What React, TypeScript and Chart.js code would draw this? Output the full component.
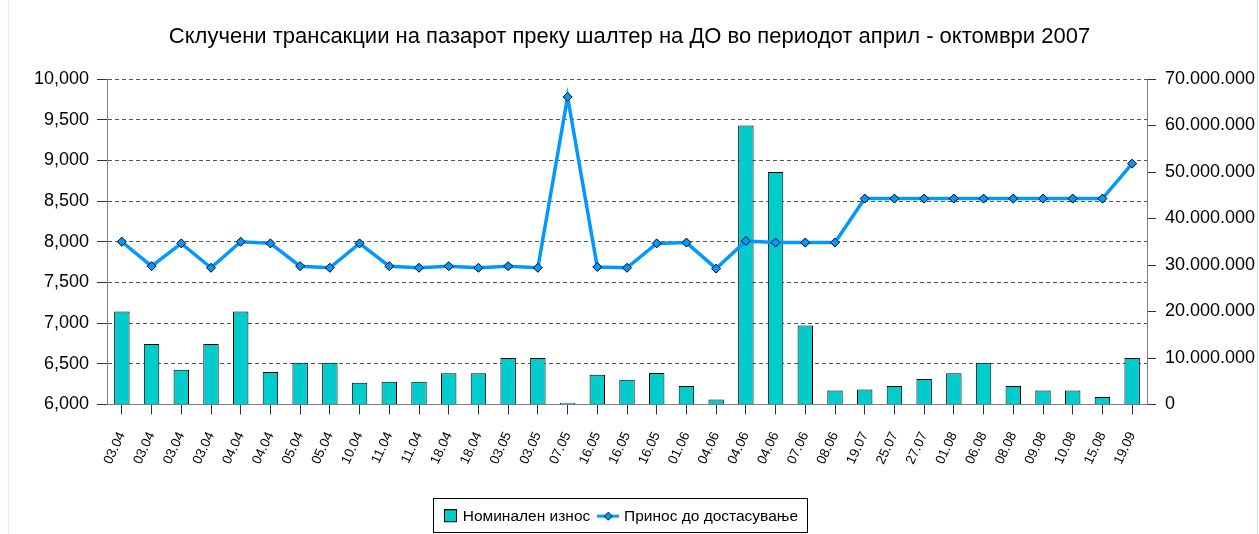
import { useEffect, useRef } from "react";
import { Chart, registerables } from "chart.js";

Chart.register(...registerables);

// ---------- data ----------
const categories = [
  "03.04", "03.04", "03.04", "03.04", "04.04", "04.04", "05.04", "05.04", "10.04",
  "11.04", "11.04", "18.04", "18.04", "03.05", "03.05", "07.05", "16.05", "16.05",
  "16.05", "01.06", "04.06", "04.06", "04.06", "07.06", "08.06", "19.07", "25.07",
  "27.07", "01.08", "06.08", "08.08", "09.08", "10.08", "15.08", "19.09",
];

// Номинален износ (denars) – right axis
const nominalAmount = [
  20000000, 13000000, 7500000, 13000000, 20000000, 7000000, 9000000, 9000000, 4700000,
  4900000, 4900000, 6700000, 6700000, 10000000, 10000000, 400000, 6400000, 5300000,
  6800000, 4000000, 1100000, 60000000, 50000000, 17000000, 3000000, 3200000, 4000000,
  5500000, 6700000, 9000000, 4000000, 3000000, 3000000, 1600000, 10000000,
];

// Принос до достасување (%) – left axis
const yieldToMaturity = [
  8.0, 7.7, 7.98, 7.68, 8.0, 7.98, 7.7, 7.68, 7.98,
  7.7, 7.68, 7.7, 7.68, 7.7, 7.68, 9.78, 7.69, 7.68,
  7.98, 7.99, 7.67, 8.01, 7.99, 7.99, 7.99, 8.53, 8.53,
  8.53, 8.53, 8.53, 8.53, 8.53, 8.53, 8.53, 8.96,
];

const seriesNames = ["Номинален износ", "Принос до достасување"];
const chartTitle =
  "Склучени трансакции на пазарот преку шалтер на ДО во периодот април - октомври 2007";

// ---------- styling ----------
const FONT = "'Liberation Sans', Arial, sans-serif";
const BAR_COLOR = "#00CCCC";
const LINE_COLOR = "#0099FF";
const GRID_COLOR = "#555555";
const AXIS_COLOR = "#808080";

const formatLeft = (v: number) => Number(v).toFixed(3).replace(".", ",");
const formatRight = (v: number) =>
  Math.round(v).toString().replace(/\B(?=(\d{3})+(?!\d))/g, ".");

function makeBarMarker() {
  const c = document.createElement("canvas");
  c.width = 22;
  c.height = 14;
  const ctx = c.getContext("2d")!;
  ctx.fillStyle = BAR_COLOR;
  ctx.fillRect(8.5, 0.5, 12, 12);
  ctx.strokeStyle = "#000";
  ctx.lineWidth = 1;
  ctx.strokeRect(8.5, 0.5, 12, 12);
  return c;
}

function makeLineMarker() {
  const c = document.createElement("canvas");
  c.width = 22;
  c.height = 14;
  const ctx = c.getContext("2d")!;
  ctx.strokeStyle = LINE_COLOR;
  ctx.lineWidth = 3;
  ctx.beginPath();
  ctx.moveTo(0, 7);
  ctx.lineTo(22, 7);
  ctx.stroke();
  ctx.beginPath();
  ctx.moveTo(11, 3);
  ctx.lineTo(15, 7);
  ctx.lineTo(11, 11);
  ctx.lineTo(7, 7);
  ctx.closePath();
  ctx.fillStyle = LINE_COLOR;
  ctx.fill();
  ctx.strokeStyle = "#000";
  ctx.lineWidth = 1;
  ctx.stroke();
  return c;
}

const legendShift = {
  id: "legendShift",
  afterLayout(chart: any) {
    const lg = chart.legend;
    if (!lg) return;
    lg.left -= 11;
    lg.right -= 11;
  },
};

const legendBorder = {
  id: "legendBorder",
  afterDraw(chart: any) {
    const lg = chart.legend;
    if (!lg || !lg.legendHitBoxes || !lg.legendHitBoxes.length) return;
    const boxes = lg.legendHitBoxes;
    const left = Math.min(...boxes.map((b: any) => b.left));
    const right = Math.max(...boxes.map((b: any) => b.left + b.width));
    const top = Math.min(...boxes.map((b: any) => b.top));
    const bottom = Math.max(...boxes.map((b: any) => b.top + b.height));
    const ctx = chart.ctx;
    ctx.save();
    ctx.strokeStyle = "#000";
    ctx.lineWidth = 1;
    const x0 = Math.round(left - 6) + 0.5;
    const x1 = Math.round(right + 9) + 0.5;
    const y0 = Math.round(top - 11) + 0.5;
    const y1 = Math.min(Math.round(bottom + 9) + 0.5, chart.height - 1.5);
    ctx.strokeRect(x0, y0, x1 - x0, y1 - y0);
    ctx.restore();
  },
};

export default function App() {
  const canvasRef = useRef<HTMLCanvasElement | null>(null);

  useEffect(() => {
    if (!canvasRef.current) return;
    Chart.defaults.font.family = FONT;
    Chart.defaults.color = "#000";
    const barMarker = makeBarMarker();
    const lineMarker = makeLineMarker();

    const chart = new Chart(canvasRef.current, {
      type: "bar",
      data: {
        labels: categories,
        datasets: [
          {
            type: "bar",
            label: seriesNames[0],
            data: nominalAmount,
            yAxisID: "yR",
            backgroundColor: BAR_COLOR,
            borderColor: "#000",
            borderWidth: 1,
            barPercentage: 0.52,
            categoryPercentage: 1,
            order: 1,
          },
          {
            type: "line",
            label: seriesNames[1],
            data: yieldToMaturity,
            yAxisID: "yL",
            borderColor: LINE_COLOR,
            borderWidth: 3.5,
            tension: 0,
            pointStyle: "rectRot",
            pointRadius: 4.5,
            pointBackgroundColor: LINE_COLOR,
            pointBorderColor: "#000",
            pointBorderWidth: 1,
            order: 0,
          },
        ] as any,
      },
      options: {
        animation: false,
        responsive: false,
        devicePixelRatio: 1,
        events: [],
        layout: { padding: 0 },
        plugins: {
          tooltip: { enabled: false },
          title: {
            display: true,
            text: chartTitle,
            color: "#000",
            font: { family: FONT, size: 22, weight: "normal" },
            padding: { top: 24, bottom: 28.6 },
          },
          legend: {
            display: true,
            position: "bottom",
            labels: {
              usePointStyle: true,
              pointStyleWidth: 16,
              padding: 10,
              color: "#000",
              font: { family: FONT, size: 15.5 },
              generateLabels: () => [
                {
                  text: seriesNames[0],
                  pointStyle: barMarker as any,
                  fillStyle: BAR_COLOR,
                  strokeStyle: "#000",
                  lineWidth: 0,
                  hidden: false,
                  datasetIndex: 0,
                },
                {
                  text: seriesNames[1],
                  pointStyle: lineMarker as any,
                  fillStyle: LINE_COLOR,
                  strokeStyle: LINE_COLOR,
                  lineWidth: 0,
                  hidden: false,
                  datasetIndex: 1,
                },
              ],
            },
          },
        },
        scales: {
          x: {
            type: "category",
            offset: true,
            grid: {
              display: true,
              drawOnChartArea: false,
              drawTicks: true,
              tickLength: 10,
              offset: false,
              tickColor: "#333",
              tickWidth: 1,
            },
            border: { display: true, color: AXIS_COLOR, width: 1 },
            ticks: {
              autoSkip: false,
              minRotation: 65,
              maxRotation: 65,
              padding: 15,
              color: "#000",
              font: { family: FONT, size: 13.5 },
            },
            afterFit: (s: any) => {
              s.height = 94;
            },
          },
          yL: {
            type: "linear",
            position: "left",
            min: 6,
            max: 10,
            ticks: {
              stepSize: 0.5,
              padding: 8,
              color: "#000",
              font: { family: FONT, size: 18 },
              callback: (v: any) => formatLeft(Number(v)),
            },
            grid: {
              color: GRID_COLOR,
              lineWidth: 1,
              drawTicks: true,
              tickLength: 10,
              tickColor: "#333",
              tickBorderDash: [],
            },
            border: { display: true, color: AXIS_COLOR, width: 1, dash: [4, 3] },
            afterFit: (s: any) => {
              s.width = 107;
            },
          },
          yR: {
            type: "linear",
            position: "right",
            min: 0,
            max: 70000000,
            ticks: {
              stepSize: 10000000,
              padding: 9,
              color: "#000",
              font: { family: FONT, size: 18 },
              callback: (v: any) => formatRight(Number(v)),
            },
            grid: {
              drawOnChartArea: false,
              drawTicks: true,
              tickLength: 9,
              tickColor: "#333",
            },
            border: { display: true, color: AXIS_COLOR, width: 1 },
            afterFit: (s: any) => {
              s.width = 112;
            },
          },
        },
      } as any,
      plugins: [legendShift, legendBorder],
    });

    return () => chart.destroy();
  }, []);

  return (
    <div style={{ position: "absolute", left: 0, top: 0, width: 1259, height: 534, background: "#fff" }}>
      <canvas
        ref={canvasRef}
        width={1259}
        height={534}
        style={{ display: "block", width: 1259, height: 534 }}
      />
      <div
        style={{
          position: "absolute",
          left: 8,
          top: 0,
          width: 1248,
          height: 534,
          borderLeft: "1px solid #d4f2f2",
          borderRight: "1px solid #bfeeee",
          pointerEvents: "none",
        }}
      />
    </div>
  );
}
